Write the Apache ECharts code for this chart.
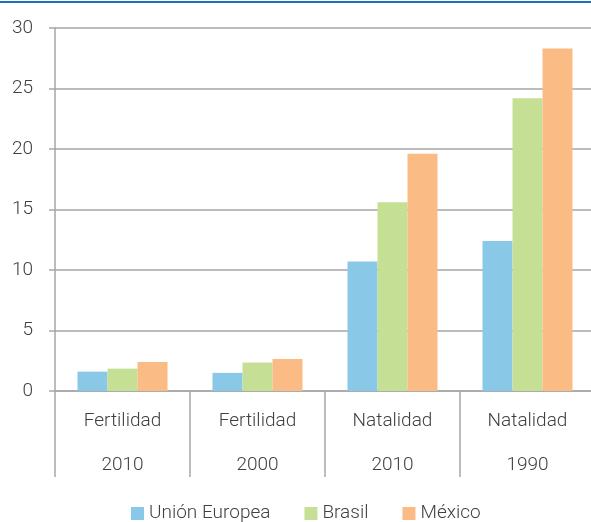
<!DOCTYPE html>
<html>
<head>
<meta charset="utf-8">
<script src="https://cdn.jsdelivr.net/npm/echarts@6/dist/echarts.min.js"></script>
<style>
  html, body { margin: 0; padding: 0; background: #fff; overflow: hidden; }
  #chart { width: 595px; height: 522px; }
</style>
</head>
<body>
<div id="chart"></div>
<script>
const indicators = ['Fertilidad', 'Fertilidad', 'Natalidad', 'Natalidad']
const years = ['2010', '2000', '2010', '1990']
const seriesNames = ['Unión Europea', 'Brasil', 'México']
const unionEuropea = [1.6, 1.5, 10.7, 12.4]
const brasil = [1.85, 2.35, 15.6, 24.2]
const mexico = [2.4, 2.65, 19.6, 28.3]
const yTicks = [0, 5, 10, 15, 20, 25, 30]

const colors = ['#89c9e7', '#c5df94', '#fbbb85']
const font = 'Roboto, "Open Sans", sans-serif'
const textColor = '#404040'
const labelStyle = { fontFamily: font, fontSize: 19, fontWeight: 300, color: textColor }

// chart is a little wider than the window: the last category runs past the right edge
const chart = echarts.init(document.getElementById('chart'))
chart.setOption({
  animation: false,
  color: colors,
  textStyle: { fontFamily: font },
  graphic: [
    { type: 'rect', left: 0, top: 1, shape: { width: 595, height: 2 }, style: { fill: '#1f6fbf' } }
  ],
  grid: { left: 55, right: 0, top: 28, bottom: 131, containLabel: false },
  legend: {
    top: 499,
    left: 126,
    itemWidth: 13,
    itemHeight: 13,
    itemGap: 34,
    icon: 'rect',
    textStyle: labelStyle,
    data: seriesNames
  },
  xAxis: {
    type: 'category',
    data: indicators.map((name, i) => name + '\n\n' + years[i]),
    axisLine: { lineStyle: { color: '#a6a6a6', width: 1.5 } },
    axisTick: { show: true, alignWithLabel: false, length: 86, lineStyle: { color: '#a6a6a6', width: 1.5 } },
    axisLabel: Object.assign({ lineHeight: 22, margin: 19 }, labelStyle)
  },
  yAxis: {
    type: 'value',
    min: yTicks[0],
    max: yTicks[yTicks.length - 1],
    interval: 5,
    axisLine: { show: true, lineStyle: { color: '#a6a6a6', width: 1.5 } },
    axisTick: { show: true, length: 6, lineStyle: { color: '#a6a6a6', width: 1.5 } },
    axisLabel: Object.assign({ margin: 22 }, labelStyle),
    splitLine: { lineStyle: { color: '#a6a6a6', width: 1.5 } }
  },
  series: [
    { name: seriesNames[0], type: 'bar', data: unionEuropea, barGap: '0%', barCategoryGap: '33.3%' },
    { name: seriesNames[1], type: 'bar', data: brasil, barGap: '0%', barCategoryGap: '33.3%' },
    { name: seriesNames[2], type: 'bar', data: mexico, barGap: '0%', barCategoryGap: '33.3%' }
  ]
})
</script>
</body>
</html>
